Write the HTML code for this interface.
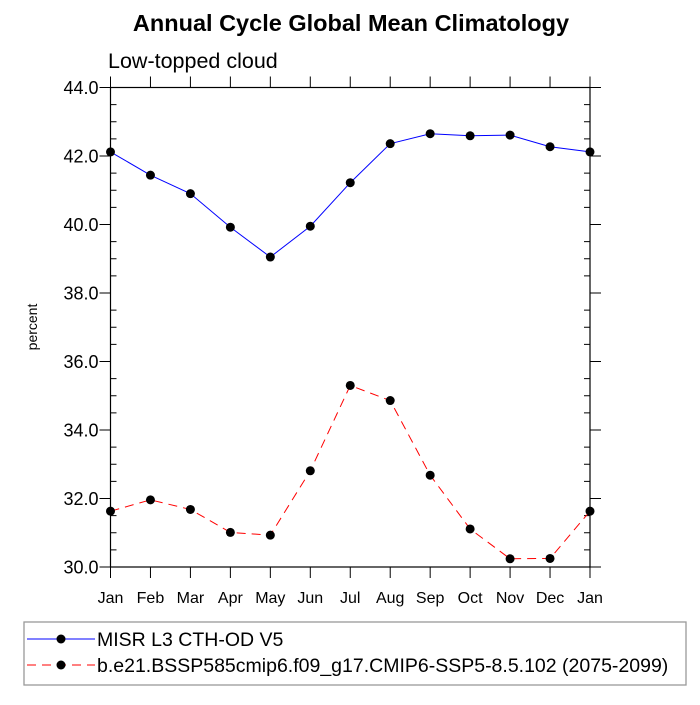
<!DOCTYPE html>
<html><head><meta charset="utf-8"><style>
body{margin:0;background:#fff}
svg text{font-family:"Liberation Sans",Arial,sans-serif}
</style></head><body>
<svg id="chart" width="700" height="700" xmlns="http://www.w3.org/2000/svg">
<text x="351" y="31" text-anchor="middle" font-size="23.5" font-weight="bold">Annual Cycle Global Mean Climatology</text>
<text x="108" y="68" font-size="21.5">Low-topped cloud</text>
<text transform="translate(37,327) rotate(-90)" text-anchor="middle" font-size="14">percent</text>
<g id="axes"></g>
<g id="series"></g>
<rect x="24" y="622" width="662" height="63" fill="none" stroke="#999" stroke-width="1.3"/>
<g>
<line x1="27" y1="639" x2="95" y2="639" stroke="#00f" stroke-width="1"/>
<circle cx="61" cy="639" r="4.5" fill="#000"/>
<text x="97" y="646" font-size="19.5">MISR L3 CTH-OD V5</text></g>
<g>
<line x1="27" y1="665" x2="95" y2="665" stroke="#f00" stroke-width="1" stroke-dasharray="9,6"/>
<circle cx="61" cy="665" r="4.5" fill="#000"/>
<text x="97" y="672" font-size="19.5">b.e21.BSSP585cmip6.f09_g17.CMIP6-SSP5-8.5.102 (2075-2099)</text></g>
</svg>
<script>
const months=["Jan","Feb","Mar","Apr","May","Jun","Jul","Aug","Sep","Oct","Nov","Dec","Jan"];
const misr=[42.12,41.44,40.9,39.92,39.05,39.95,41.22,42.36,42.65,42.59,42.61,42.27,42.12];
const model=[31.63,31.96,31.68,31.01,30.93,32.81,35.3,34.86,32.68,31.11,30.24,30.25,31.63];
const yTicks=["30.0","32.0","34.0","36.0","38.0","40.0","42.0","44.0"];
const L=110.5,R=590,T=87.5,B=567,ymin=30,ymax=44;
const xs=i=>L+(R-L)*i/(months.length-1);
const ys=v=>B-(B-T)*(v-ymin)/(ymax-ymin);
const NS="http://www.w3.org/2000/svg";
function mk(tag,attrs,parent){const e=document.createElementNS(NS,tag);for(const k in attrs)e.setAttribute(k,attrs[k]);parent.appendChild(e);return e;}
const ax=document.getElementById('axes');
const frame=mk('rect',{x:L,y:T,width:R-L,height:B-T,fill:'none',stroke:'#000','stroke-width':1.2},ax);


months.forEach((m,i)=>{const x=xs(i);
mk('line',{x1:x,y1:B,x2:x,y2:B+11,stroke:'#000'},ax);
mk('line',{x1:x,y1:T,x2:x,y2:T-11,stroke:'#000'},ax);
const t=mk('text',{x:x,y:B+36,'text-anchor':'middle','font-size':16},ax);t.textContent=m;

});
yTicks.forEach(s=>{const y=ys(parseFloat(s));
mk('line',{x1:L-11,y1:y,x2:L,y2:y,stroke:'#000'},ax);
mk('line',{x1:R,y1:y,x2:R+11,y2:y,stroke:'#000'},ax);
const t=mk('text',{x:L-12,y:y+6.5,'text-anchor':'end','font-size':18},ax);t.textContent=s;

});
for(let v=ymin;v<=ymax+1e-6;v+=0.5){if(Math.abs(v-Math.round(v/2)*2)<1e-6)continue;const y=ys(v);
mk('line',{x1:L,y1:y,x2:L+6,y2:y,stroke:'#000'},ax);
mk('line',{x1:R-6,y1:y,x2:R,y2:y,stroke:'#000'},ax);}
const sg=document.getElementById('series');
function draw(vals,color,dash,name){
const g=mk('g',{},sg);


const p=mk('polyline',{points:vals.map((v,i)=>xs(i)+','+ys(v)).join(' '),fill:'none',stroke:color,'stroke-width':1,'stroke-dasharray':dash},g);
vals.forEach((v,i)=>{const c=mk('circle',{cx:xs(i),cy:ys(v),r:4.5,fill:'#000'},g);

});}
draw(misr,'#00f','none','misr-series');
draw(model,'#f00','9,6','model-series');
</script>
</body></html>
